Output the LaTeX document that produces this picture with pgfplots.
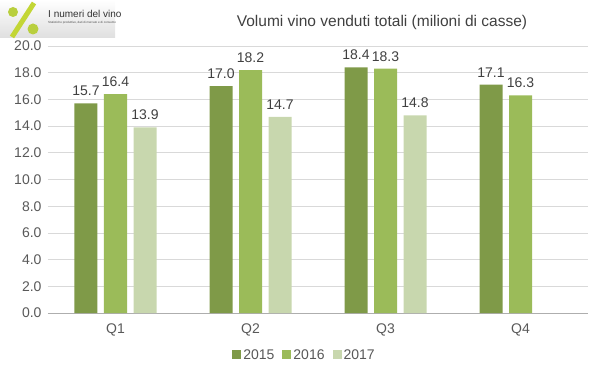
\documentclass[border=0pt]{standalone}
\usepackage{pgfplots}
\pgfplotsset{compat=1.18}
\usepackage{fontspec}
\setmainfont{Liberation Sans}
\definecolor{c15}{HTML}{7F9A48}
\definecolor{c16}{HTML}{9BBB59}
\definecolor{c17}{HTML}{C8D7AE}
\definecolor{txt}{HTML}{595959}
\definecolor{grd}{HTML}{D9D9D9}
\begin{document}
\begin{tikzpicture}
\path[use as bounding box] (0pt,0pt) rectangle (599pt,378pt);
% logo
\fill[top color=white,bottom color=gray!25] (0pt,340pt) rectangle (115pt,378pt);
\draw[line width=5pt,color=c16!60!yellow] (12pt,341pt) -- (34pt,375pt);
\fill[c16!70!yellow] (13pt,366pt) circle (5pt);
\fill[c16!70!yellow] (33pt,349pt) circle (5.5pt);
\node[anchor=west,font=\fontsize{10}{11}\selectfont,text=black!80,inner sep=0pt] at (48pt,364pt) {I numeri del vino};
\node[anchor=west,font=\fontsize{3}{3}\selectfont,text=black!70,inner sep=0pt] at (48pt,355pt) {Statistiche produttive, dati di mercato e di consumo};
\node[font=\fontsize{15.5}{17}\selectfont,text=black!75] at (382pt,356pt) {Volumi vino venduti totali (milioni di casse)};
\begin{axis}[
  at={(48pt,65pt)}, anchor=south west,
  scale only axis, width=540pt, height=267pt,
  xmin=-0.5, xmax=3.5, ymin=0, ymax=20,
  ytick={0,2,...,20},
  xtick={0,1,2,3}, xticklabels={Q1,Q2,Q3,Q4},
  ybar=6.5pt, bar width=23pt,
  axis x line*=bottom, axis y line*=left,
  y axis line style={draw=none},
  x axis line style={grd!80!black, line width=0.8pt},
  ymajorgrids, grid style={grd, line width=0.8pt},
  major tick length=0pt,
  tick label style={font=\fontsize{14}{16}\selectfont, text=txt},
  yticklabel style={xshift=-3pt, /pgf/number format/fixed, /pgf/number format/fixed zerofill, /pgf/number format/precision=1},
  /pgf/number format/assume math mode=true,
  xticklabel style={yshift=-7pt},
  nodes near coords,
  every node near coord/.append style={yshift=4pt, font=\fontsize{14}{16}\selectfont, text=black!75, /pgf/number format/fixed, /pgf/number format/fixed zerofill, /pgf/number format/precision=1},
  legend style={at={(0.475,-0.157)}, anchor=center, draw=none, legend columns=3, font=\fontsize{14}{16}\selectfont, text=txt, /tikz/every even column/.append style={column sep=6pt}},
  legend image code/.code={\fill[#1] (0pt,-4.5pt) rectangle (9pt,4.5pt);},
  clip=false,
]
\addplot[fill=c15, draw=none] coordinates {(0,15.7) (1,17.0) (2,18.4) (3,17.1)};
\addplot[fill=c16, draw=none] coordinates {(0,16.4) (1,18.2) (2,18.3) (3,16.3)};
\addplot[fill=c17, draw=none] coordinates {(0,13.9) (1,14.7) (2,14.8)};
\legend{2015,2016,2017}
\end{axis}
\end{tikzpicture}
\end{document}
